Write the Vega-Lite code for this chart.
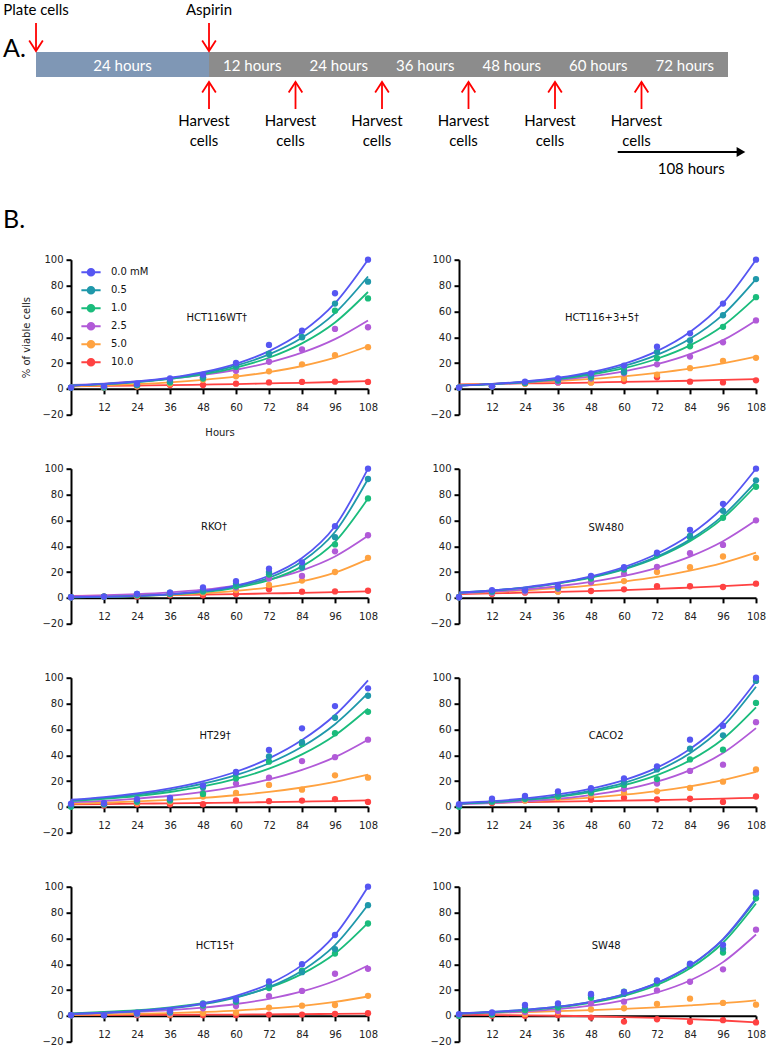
{
"$schema": "https://vega.github.io/schema/vega-lite/v6.json",
"padding": {"left": 2, "top": 2, "right": 0, "bottom": 0},
"background": "white",
"datasets": {"B": [
{"p":"HCT116WT","c":"10.0","t":0,"v":1,"f":2},{"p":"HCT116WT","c":"10.0","t":12,"v":1,"f":2.3},{"p":"HCT116WT","c":"10.0","t":24,"v":2,"f":2.6},{"p":"HCT116WT","c":"10.0","t":36,"v":3,"f":2.9},{"p":"HCT116WT","c":"10.0","t":48,"v":3,"f":3.3},{"p":"HCT116WT","c":"10.0","t":60,"v":4,"f":3.7},{"p":"HCT116WT","c":"10.0","t":72,"v":5,"f":4.2},{"p":"HCT116WT","c":"10.0","t":84,"v":5.4,"f":4.7},{"p":"HCT116WT","c":"10.0","t":96,"v":5.6,"f":5.3},{"p":"HCT116WT","c":"10.0","t":108,"v":5.4,"f":6},
{"p":"HCT116WT","c":"5.0","t":0,"v":1,"f":2},{"p":"HCT116WT","c":"5.0","t":12,"v":1,"f":2.7},{"p":"HCT116WT","c":"5.0","t":24,"v":2,"f":3.7},{"p":"HCT116WT","c":"5.0","t":36,"v":4,"f":5.1},{"p":"HCT116WT","c":"5.0","t":48,"v":7,"f":7},{"p":"HCT116WT","c":"5.0","t":60,"v":9.7,"f":9.5},{"p":"HCT116WT","c":"5.0","t":72,"v":13.6,"f":13},{"p":"HCT116WT","c":"5.0","t":84,"v":19,"f":17.7},{"p":"HCT116WT","c":"5.0","t":96,"v":26,"f":24.2},{"p":"HCT116WT","c":"5.0","t":108,"v":32.3,"f":33},
{"p":"HCT116WT","c":"2.5","t":0,"v":1,"f":3},{"p":"HCT116WT","c":"2.5","t":12,"v":1,"f":4.1},{"p":"HCT116WT","c":"2.5","t":24,"v":3,"f":5.7},{"p":"HCT116WT","c":"2.5","t":36,"v":6,"f":7.8},{"p":"HCT116WT","c":"2.5","t":48,"v":9,"f":10.8},{"p":"HCT116WT","c":"2.5","t":60,"v":14,"f":14.8},{"p":"HCT116WT","c":"2.5","t":72,"v":21,"f":20.4},{"p":"HCT116WT","c":"2.5","t":84,"v":30.5,"f":28},{"p":"HCT116WT","c":"2.5","t":96,"v":46.4,"f":38.5},{"p":"HCT116WT","c":"2.5","t":108,"v":47.7,"f":53},
{"p":"HCT116WT","c":"1.0","t":0,"v":1,"f":2.5},{"p":"HCT116WT","c":"1.0","t":12,"v":1,"f":3.7},{"p":"HCT116WT","c":"1.0","t":24,"v":3,"f":5.3},{"p":"HCT116WT","c":"1.0","t":36,"v":5,"f":7.8},{"p":"HCT116WT","c":"1.0","t":48,"v":8,"f":11.3},{"p":"HCT116WT","c":"1.0","t":60,"v":17,"f":16.5},{"p":"HCT116WT","c":"1.0","t":72,"v":27,"f":24.1},{"p":"HCT116WT","c":"1.0","t":84,"v":40,"f":35.2},{"p":"HCT116WT","c":"1.0","t":96,"v":60.5,"f":51.4},{"p":"HCT116WT","c":"1.0","t":108,"v":70,"f":75},
{"p":"HCT116WT","c":"0.5","t":0,"v":1,"f":2.5},{"p":"HCT116WT","c":"0.5","t":12,"v":2,"f":3.7},{"p":"HCT116WT","c":"0.5","t":24,"v":3,"f":5.5},{"p":"HCT116WT","c":"0.5","t":36,"v":6,"f":8.2},{"p":"HCT116WT","c":"0.5","t":48,"v":9,"f":12.1},{"p":"HCT116WT","c":"0.5","t":60,"v":18,"f":18},{"p":"HCT116WT","c":"0.5","t":72,"v":27,"f":26.7},{"p":"HCT116WT","c":"0.5","t":84,"v":40,"f":39.6},{"p":"HCT116WT","c":"0.5","t":96,"v":66,"f":58.7},{"p":"HCT116WT","c":"0.5","t":108,"v":83,"f":87},
{"p":"HCT116WT","c":"0.0 mM","t":0,"v":1,"f":2.5},{"p":"HCT116WT","c":"0.0 mM","t":12,"v":2,"f":3.8},{"p":"HCT116WT","c":"0.0 mM","t":24,"v":4,"f":5.7},{"p":"HCT116WT","c":"0.0 mM","t":36,"v":8,"f":8.6},{"p":"HCT116WT","c":"0.0 mM","t":48,"v":11,"f":12.9},{"p":"HCT116WT","c":"0.0 mM","t":60,"v":20,"f":19.4},{"p":"HCT116WT","c":"0.0 mM","t":72,"v":34,"f":29.2},{"p":"HCT116WT","c":"0.0 mM","t":84,"v":45,"f":44},{"p":"HCT116WT","c":"0.0 mM","t":96,"v":74,"f":66.3},{"p":"HCT116WT","c":"0.0 mM","t":108,"v":100,"f":100},

{"p":"HCT116+3+5","c":"10.0","t":0,"v":1,"f":3.5},{"p":"HCT116+3+5","c":"10.0","t":12,"v":2,"f":3.8},{"p":"HCT116+3+5","c":"10.0","t":24,"v":4,"f":4.2},{"p":"HCT116+3+5","c":"10.0","t":36,"v":5,"f":4.5},{"p":"HCT116+3+5","c":"10.0","t":48,"v":5,"f":4.9},{"p":"HCT116+3+5","c":"10.0","t":60,"v":6,"f":5.4},{"p":"HCT116+3+5","c":"10.0","t":72,"v":9,"f":5.8},{"p":"HCT116+3+5","c":"10.0","t":84,"v":5.6,"f":6.3},{"p":"HCT116+3+5","c":"10.0","t":96,"v":5,"f":6.9},{"p":"HCT116+3+5","c":"10.0","t":108,"v":6.6,"f":7.5},
{"p":"HCT116+3+5","c":"5.0","t":0,"v":1,"f":3},{"p":"HCT116+3+5","c":"5.0","t":12,"v":2,"f":3.8},{"p":"HCT116+3+5","c":"5.0","t":24,"v":4,"f":4.8},{"p":"HCT116+3+5","c":"5.0","t":36,"v":5,"f":6.1},{"p":"HCT116+3+5","c":"5.0","t":48,"v":5,"f":7.7},{"p":"HCT116+3+5","c":"5.0","t":60,"v":8,"f":9.7},{"p":"HCT116+3+5","c":"5.0","t":72,"v":11,"f":12.3},{"p":"HCT116+3+5","c":"5.0","t":84,"v":16,"f":15.6},{"p":"HCT116+3+5","c":"5.0","t":96,"v":21.7,"f":19.8},{"p":"HCT116+3+5","c":"5.0","t":108,"v":24,"f":25},
{"p":"HCT116+3+5","c":"2.5","t":0,"v":1,"f":2.5},{"p":"HCT116+3+5","c":"2.5","t":12,"v":2,"f":3.5},{"p":"HCT116+3+5","c":"2.5","t":24,"v":4.5,"f":4.9},{"p":"HCT116+3+5","c":"2.5","t":36,"v":5,"f":6.9},{"p":"HCT116+3+5","c":"2.5","t":48,"v":8,"f":9.7},{"p":"HCT116+3+5","c":"2.5","t":60,"v":12,"f":13.6},{"p":"HCT116+3+5","c":"2.5","t":72,"v":19,"f":19.1},{"p":"HCT116+3+5","c":"2.5","t":84,"v":25,"f":26.9},{"p":"HCT116+3+5","c":"2.5","t":96,"v":36,"f":37.7},{"p":"HCT116+3+5","c":"2.5","t":108,"v":53,"f":53},
{"p":"HCT116+3+5","c":"1.0","t":0,"v":1,"f":2.5},{"p":"HCT116+3+5","c":"1.0","t":12,"v":2,"f":3.6},{"p":"HCT116+3+5","c":"1.0","t":24,"v":4.5,"f":5.3},{"p":"HCT116+3+5","c":"1.0","t":36,"v":6.5,"f":7.6},{"p":"HCT116+3+5","c":"1.0","t":48,"v":9,"f":11.1},{"p":"HCT116+3+5","c":"1.0","t":60,"v":15,"f":16},{"p":"HCT116+3+5","c":"1.0","t":72,"v":23.7,"f":23.3},{"p":"HCT116+3+5","c":"1.0","t":84,"v":33,"f":33.7},{"p":"HCT116+3+5","c":"1.0","t":96,"v":48,"f":48.9},{"p":"HCT116+3+5","c":"1.0","t":108,"v":71,"f":71},
{"p":"HCT116+3+5","c":"0.5","t":0,"v":1,"f":2.5},{"p":"HCT116+3+5","c":"0.5","t":12,"v":2,"f":3.7},{"p":"HCT116+3+5","c":"0.5","t":24,"v":5,"f":5.5},{"p":"HCT116+3+5","c":"0.5","t":36,"v":7,"f":8.1},{"p":"HCT116+3+5","c":"0.5","t":48,"v":10,"f":12},{"p":"HCT116+3+5","c":"0.5","t":60,"v":12.8,"f":17.7},{"p":"HCT116+3+5","c":"0.5","t":72,"v":28.6,"f":26.3},{"p":"HCT116+3+5","c":"0.5","t":84,"v":37.5,"f":38.8},{"p":"HCT116+3+5","c":"0.5","t":96,"v":57,"f":57.5},{"p":"HCT116+3+5","c":"0.5","t":108,"v":85,"f":85},
{"p":"HCT116+3+5","c":"0.0 mM","t":0,"v":1,"f":2.5},{"p":"HCT116+3+5","c":"0.0 mM","t":12,"v":2,"f":3.8},{"p":"HCT116+3+5","c":"0.0 mM","t":24,"v":5.6,"f":5.7},{"p":"HCT116+3+5","c":"0.0 mM","t":36,"v":8,"f":8.6},{"p":"HCT116+3+5","c":"0.0 mM","t":48,"v":12,"f":12.9},{"p":"HCT116+3+5","c":"0.0 mM","t":60,"v":18,"f":19.4},{"p":"HCT116+3+5","c":"0.0 mM","t":72,"v":32.6,"f":29.2},{"p":"HCT116+3+5","c":"0.0 mM","t":84,"v":43,"f":44},{"p":"HCT116+3+5","c":"0.0 mM","t":96,"v":66,"f":66.3},{"p":"HCT116+3+5","c":"0.0 mM","t":108,"v":100,"f":100},

{"p":"RKO","c":"10.0","t":0,"v":0.5,"f":1.5},{"p":"RKO","c":"10.0","t":12,"v":1,"f":1.7},{"p":"RKO","c":"10.0","t":24,"v":1,"f":2},{"p":"RKO","c":"10.0","t":36,"v":2,"f":2.2},{"p":"RKO","c":"10.0","t":48,"v":2,"f":2.6},{"p":"RKO","c":"10.0","t":60,"v":3,"f":2.9},{"p":"RKO","c":"10.0","t":72,"v":6.6,"f":3.4},{"p":"RKO","c":"10.0","t":84,"v":4.8,"f":3.8},{"p":"RKO","c":"10.0","t":96,"v":5,"f":4.4},{"p":"RKO","c":"10.0","t":108,"v":5.5,"f":5},
{"p":"RKO","c":"5.0","t":0,"v":0.5,"f":0.6},{"p":"RKO","c":"5.0","t":12,"v":1,"f":1},{"p":"RKO","c":"5.0","t":24,"v":2,"f":1.5},{"p":"RKO","c":"5.0","t":36,"v":3,"f":2.3},{"p":"RKO","c":"5.0","t":48,"v":4,"f":3.5},{"p":"RKO","c":"5.0","t":60,"v":6,"f":5.4},{"p":"RKO","c":"5.0","t":72,"v":10,"f":8.2},{"p":"RKO","c":"5.0","t":84,"v":13.4,"f":12.7},{"p":"RKO","c":"5.0","t":96,"v":20,"f":19.5},{"p":"RKO","c":"5.0","t":108,"v":31,"f":30},
{"p":"RKO","c":"2.5","t":0,"v":0.5,"f":1.3},{"p":"RKO","c":"2.5","t":12,"v":1,"f":1.9},{"p":"RKO","c":"2.5","t":24,"v":2,"f":2.8},{"p":"RKO","c":"2.5","t":36,"v":3,"f":4.2},{"p":"RKO","c":"2.5","t":48,"v":5,"f":6.3},{"p":"RKO","c":"2.5","t":60,"v":8,"f":9.5},{"p":"RKO","c":"2.5","t":72,"v":15,"f":14.2},{"p":"RKO","c":"2.5","t":84,"v":17,"f":21.3},{"p":"RKO","c":"2.5","t":96,"v":36,"f":32},{"p":"RKO","c":"2.5","t":108,"v":48.5,"f":48},
{"p":"RKO","c":"1.0","t":0,"v":0.5,"f":0.45},{"p":"RKO","c":"1.0","t":12,"v":1,"f":0.8},{"p":"RKO","c":"1.0","t":24,"v":2,"f":1.4},{"p":"RKO","c":"1.0","t":36,"v":3,"f":2.5},{"p":"RKO","c":"1.0","t":48,"v":5,"f":4.4},{"p":"RKO","c":"1.0","t":60,"v":9,"f":7.8},{"p":"RKO","c":"1.0","t":72,"v":18,"f":13.8},{"p":"RKO","c":"1.0","t":84,"v":24,"f":24.4},{"p":"RKO","c":"1.0","t":96,"v":41.4,"f":43.4},{"p":"RKO","c":"1.0","t":108,"v":77,"f":77},
{"p":"RKO","c":"0.5","t":0,"v":0.5,"f":0.45},{"p":"RKO","c":"0.5","t":12,"v":1,"f":0.8},{"p":"RKO","c":"0.5","t":24,"v":3,"f":1.5},{"p":"RKO","c":"0.5","t":36,"v":4,"f":2.7},{"p":"RKO","c":"0.5","t":48,"v":6,"f":4.8},{"p":"RKO","c":"0.5","t":60,"v":11,"f":8.7},{"p":"RKO","c":"0.5","t":72,"v":20,"f":15.6},{"p":"RKO","c":"0.5","t":84,"v":23.5,"f":28.2},{"p":"RKO","c":"0.5","t":96,"v":47,"f":51},{"p":"RKO","c":"0.5","t":108,"v":92,"f":92},
{"p":"RKO","c":"0.0 mM","t":0,"v":0.5,"f":0.5},{"p":"RKO","c":"0.0 mM","t":12,"v":1,"f":0.9},{"p":"RKO","c":"0.0 mM","t":24,"v":3,"f":1.6},{"p":"RKO","c":"0.0 mM","t":36,"v":4,"f":2.9},{"p":"RKO","c":"0.0 mM","t":48,"v":8,"f":5.3},{"p":"RKO","c":"0.0 mM","t":60,"v":13,"f":9.5},{"p":"RKO","c":"0.0 mM","t":72,"v":22.7,"f":17.1},{"p":"RKO","c":"0.0 mM","t":84,"v":27.5,"f":30.8},{"p":"RKO","c":"0.0 mM","t":96,"v":55.5,"f":55.5},{"p":"RKO","c":"0.0 mM","t":108,"v":100,"f":100},

{"p":"SW480","c":"10.0","t":0,"v":0.5,"f":3},{"p":"SW480","c":"10.0","t":12,"v":3,"f":3.5},{"p":"SW480","c":"10.0","t":24,"v":4,"f":4},{"p":"SW480","c":"10.0","t":36,"v":5,"f":4.6},{"p":"SW480","c":"10.0","t":48,"v":5.3,"f":5.2},{"p":"SW480","c":"10.0","t":60,"v":6.6,"f":6},{"p":"SW480","c":"10.0","t":72,"v":9,"f":6.9},{"p":"SW480","c":"10.0","t":84,"v":9,"f":8},{"p":"SW480","c":"10.0","t":96,"v":8.4,"f":9.1},{"p":"SW480","c":"10.0","t":108,"v":11,"f":10.5},
{"p":"SW480","c":"5.0","t":0,"v":0.5,"f":3.5},{"p":"SW480","c":"5.0","t":12,"v":4,"f":4.5},{"p":"SW480","c":"5.0","t":24,"v":5,"f":5.8},{"p":"SW480","c":"5.0","t":36,"v":5,"f":7.5},{"p":"SW480","c":"5.0","t":48,"v":12,"f":9.7},{"p":"SW480","c":"5.0","t":60,"v":13,"f":12.6},{"p":"SW480","c":"5.0","t":72,"v":20,"f":16.2},{"p":"SW480","c":"5.0","t":84,"v":23.7,"f":21},{"p":"SW480","c":"5.0","t":96,"v":32,"f":27.1},{"p":"SW480","c":"5.0","t":108,"v":31,"f":35},
{"p":"SW480","c":"2.5","t":0,"v":0.5,"f":3.5},{"p":"SW480","c":"2.5","t":12,"v":4,"f":4.8},{"p":"SW480","c":"2.5","t":24,"v":5,"f":6.6},{"p":"SW480","c":"2.5","t":36,"v":7,"f":9},{"p":"SW480","c":"2.5","t":48,"v":12,"f":12.4},{"p":"SW480","c":"2.5","t":60,"v":18.6,"f":17},{"p":"SW480","c":"2.5","t":72,"v":24,"f":23.3},{"p":"SW480","c":"2.5","t":84,"v":34.6,"f":31.9},{"p":"SW480","c":"2.5","t":96,"v":41,"f":43.8},{"p":"SW480","c":"2.5","t":108,"v":60,"f":60},
{"p":"SW480","c":"1.0","t":0,"v":0.5,"f":4},{"p":"SW480","c":"1.0","t":12,"v":5,"f":5.6},{"p":"SW480","c":"1.0","t":24,"v":6,"f":7.9},{"p":"SW480","c":"1.0","t":36,"v":8,"f":11.2},{"p":"SW480","c":"1.0","t":48,"v":15,"f":15.7},{"p":"SW480","c":"1.0","t":60,"v":22,"f":22.1},{"p":"SW480","c":"1.0","t":72,"v":33,"f":31.1},{"p":"SW480","c":"1.0","t":84,"v":47,"f":43.8},{"p":"SW480","c":"1.0","t":96,"v":62,"f":61.7},{"p":"SW480","c":"1.0","t":108,"v":86,"f":87},
{"p":"SW480","c":"0.5","t":0,"v":0.5,"f":4},{"p":"SW480","c":"0.5","t":12,"v":5,"f":5.7},{"p":"SW480","c":"0.5","t":24,"v":6,"f":8},{"p":"SW480","c":"0.5","t":36,"v":8,"f":11.3},{"p":"SW480","c":"0.5","t":48,"v":16,"f":16},{"p":"SW480","c":"0.5","t":60,"v":23,"f":22.6},{"p":"SW480","c":"0.5","t":72,"v":34,"f":31.9},{"p":"SW480","c":"0.5","t":84,"v":48,"f":45.1},{"p":"SW480","c":"0.5","t":96,"v":67.4,"f":63.7},{"p":"SW480","c":"0.5","t":108,"v":91,"f":90},
{"p":"SW480","c":"0.0 mM","t":0,"v":0.5,"f":4},{"p":"SW480","c":"0.0 mM","t":12,"v":6,"f":5.7},{"p":"SW480","c":"0.0 mM","t":24,"v":6,"f":8.2},{"p":"SW480","c":"0.0 mM","t":36,"v":9,"f":11.7},{"p":"SW480","c":"0.0 mM","t":48,"v":17,"f":16.7},{"p":"SW480","c":"0.0 mM","t":60,"v":23.7,"f":23.9},{"p":"SW480","c":"0.0 mM","t":72,"v":35,"f":34.2},{"p":"SW480","c":"0.0 mM","t":84,"v":52.7,"f":48.9},{"p":"SW480","c":"0.0 mM","t":96,"v":72.8,"f":69.9},{"p":"SW480","c":"0.0 mM","t":108,"v":100,"f":100},

{"p":"HT29","c":"10.0","t":0,"v":1,"f":2},{"p":"HT29","c":"10.0","t":12,"v":1,"f":2.2},{"p":"HT29","c":"10.0","t":24,"v":2,"f":2.5},{"p":"HT29","c":"10.0","t":36,"v":2,"f":2.7},{"p":"HT29","c":"10.0","t":48,"v":2,"f":3},{"p":"HT29","c":"10.0","t":60,"v":5,"f":3.3},{"p":"HT29","c":"10.0","t":72,"v":4.4,"f":3.7},{"p":"HT29","c":"10.0","t":84,"v":4.9,"f":4.1},{"p":"HT29","c":"10.0","t":96,"v":6,"f":4.5},{"p":"HT29","c":"10.0","t":108,"v":3.8,"f":5},
{"p":"HT29","c":"5.0","t":0,"v":1,"f":2.5},{"p":"HT29","c":"5.0","t":12,"v":2,"f":3.2},{"p":"HT29","c":"5.0","t":24,"v":3,"f":4.2},{"p":"HT29","c":"5.0","t":36,"v":4,"f":5.4},{"p":"HT29","c":"5.0","t":48,"v":8,"f":7},{"p":"HT29","c":"5.0","t":60,"v":10.8,"f":9},{"p":"HT29","c":"5.0","t":72,"v":17,"f":11.6},{"p":"HT29","c":"5.0","t":84,"v":13.3,"f":15},{"p":"HT29","c":"5.0","t":96,"v":24.4,"f":19.4},{"p":"HT29","c":"5.0","t":108,"v":22.6,"f":25},
{"p":"HT29","c":"2.5","t":0,"v":1,"f":3.5},{"p":"HT29","c":"2.5","t":12,"v":2,"f":4.7},{"p":"HT29","c":"2.5","t":24,"v":4,"f":6.4},{"p":"HT29","c":"2.5","t":36,"v":5,"f":8.6},{"p":"HT29","c":"2.5","t":48,"v":10.8,"f":11.6},{"p":"HT29","c":"2.5","t":60,"v":18,"f":15.7},{"p":"HT29","c":"2.5","t":72,"v":22.6,"f":21.2},{"p":"HT29","c":"2.5","t":84,"v":35.4,"f":28.6},{"p":"HT29","c":"2.5","t":96,"v":38.5,"f":38.5},{"p":"HT29","c":"2.5","t":108,"v":52,"f":52},
{"p":"HT29","c":"1.0","t":0,"v":0,"f":4.5},{"p":"HT29","c":"1.0","t":12,"v":2,"f":6.2},{"p":"HT29","c":"1.0","t":24,"v":4,"f":8.4},{"p":"HT29","c":"1.0","t":36,"v":5,"f":11.5},{"p":"HT29","c":"1.0","t":48,"v":10,"f":15.8},{"p":"HT29","c":"1.0","t":60,"v":22,"f":21.6},{"p":"HT29","c":"1.0","t":72,"v":35,"f":29.6},{"p":"HT29","c":"1.0","t":84,"v":48.7,"f":40.6},{"p":"HT29","c":"1.0","t":96,"v":57,"f":55.5},{"p":"HT29","c":"1.0","t":108,"v":73.6,"f":76},
{"p":"HT29","c":"0.5","t":0,"v":1,"f":5},{"p":"HT29","c":"0.5","t":12,"v":2,"f":6.9},{"p":"HT29","c":"0.5","t":24,"v":5,"f":9.5},{"p":"HT29","c":"0.5","t":36,"v":6,"f":13},{"p":"HT29","c":"0.5","t":48,"v":15,"f":17.9},{"p":"HT29","c":"0.5","t":60,"v":26,"f":24.6},{"p":"HT29","c":"0.5","t":72,"v":39,"f":33.8},{"p":"HT29","c":"0.5","t":84,"v":50,"f":46.5},{"p":"HT29","c":"0.5","t":96,"v":69,"f":64},{"p":"HT29","c":"0.5","t":108,"v":86,"f":88},
{"p":"HT29","c":"0.0 mM","t":0,"v":2.5,"f":5.5},{"p":"HT29","c":"0.0 mM","t":12,"v":3,"f":7.6},{"p":"HT29","c":"0.0 mM","t":24,"v":6,"f":10.4},{"p":"HT29","c":"0.0 mM","t":36,"v":7,"f":14.4},{"p":"HT29","c":"0.0 mM","t":48,"v":16.7,"f":19.8},{"p":"HT29","c":"0.0 mM","t":60,"v":27,"f":27.2},{"p":"HT29","c":"0.0 mM","t":72,"v":44,"f":37.5},{"p":"HT29","c":"0.0 mM","t":84,"v":60.8,"f":51.7},{"p":"HT29","c":"0.0 mM","t":96,"v":78,"f":71.1},{"p":"HT29","c":"0.0 mM","t":108,"v":91.8,"f":98},

{"p":"CACO2","c":"10.0","t":0,"v":1,"f":3},{"p":"CACO2","c":"10.0","t":12,"v":3,"f":3.3},{"p":"CACO2","c":"10.0","t":24,"v":5,"f":3.6},{"p":"CACO2","c":"10.0","t":36,"v":7.3,"f":4},{"p":"CACO2","c":"10.0","t":48,"v":5.6,"f":4.4},{"p":"CACO2","c":"10.0","t":60,"v":7,"f":4.8},{"p":"CACO2","c":"10.0","t":72,"v":5.8,"f":5.3},{"p":"CACO2","c":"10.0","t":84,"v":6.3,"f":5.8},{"p":"CACO2","c":"10.0","t":96,"v":3.8,"f":6.4},{"p":"CACO2","c":"10.0","t":108,"v":8,"f":7},
{"p":"CACO2","c":"5.0","t":0,"v":1,"f":2.5},{"p":"CACO2","c":"5.0","t":12,"v":4,"f":3.3},{"p":"CACO2","c":"5.0","t":24,"v":5,"f":4.2},{"p":"CACO2","c":"5.0","t":36,"v":7,"f":5.5},{"p":"CACO2","c":"5.0","t":48,"v":8.9,"f":7.2},{"p":"CACO2","c":"5.0","t":60,"v":11,"f":9.4},{"p":"CACO2","c":"5.0","t":72,"v":12,"f":12.2},{"p":"CACO2","c":"5.0","t":84,"v":14.7,"f":15.9},{"p":"CACO2","c":"5.0","t":96,"v":19.5,"f":20.7},{"p":"CACO2","c":"5.0","t":108,"v":29,"f":27},
{"p":"CACO2","c":"2.5","t":0,"v":1,"f":2},{"p":"CACO2","c":"2.5","t":12,"v":4,"f":2.9},{"p":"CACO2","c":"2.5","t":24,"v":6,"f":4.3},{"p":"CACO2","c":"2.5","t":36,"v":8.9,"f":6.3},{"p":"CACO2","c":"2.5","t":48,"v":10.6,"f":9.1},{"p":"CACO2","c":"2.5","t":60,"v":14,"f":13.3},{"p":"CACO2","c":"2.5","t":72,"v":18,"f":19.5},{"p":"CACO2","c":"2.5","t":84,"v":27.8,"f":28.5},{"p":"CACO2","c":"2.5","t":96,"v":32.7,"f":41.7},{"p":"CACO2","c":"2.5","t":108,"v":65.6,"f":61},
{"p":"CACO2","c":"1.0","t":0,"v":0,"f":2.5},{"p":"CACO2","c":"1.0","t":12,"v":4,"f":3.7},{"p":"CACO2","c":"1.0","t":24,"v":6,"f":5.4},{"p":"CACO2","c":"1.0","t":36,"v":8,"f":7.8},{"p":"CACO2","c":"1.0","t":48,"v":11,"f":11.5},{"p":"CACO2","c":"1.0","t":60,"v":17,"f":16.8},{"p":"CACO2","c":"1.0","t":72,"v":21.5,"f":24.6},{"p":"CACO2","c":"1.0","t":84,"v":36.7,"f":36},{"p":"CACO2","c":"1.0","t":96,"v":44.3,"f":52.6},{"p":"CACO2","c":"1.0","t":108,"v":80.5,"f":77},
{"p":"CACO2","c":"0.5","t":0,"v":1,"f":2.5},{"p":"CACO2","c":"0.5","t":12,"v":5,"f":3.7},{"p":"CACO2","c":"0.5","t":24,"v":7,"f":5.6},{"p":"CACO2","c":"0.5","t":36,"v":10,"f":8.3},{"p":"CACO2","c":"0.5","t":48,"v":13,"f":12.5},{"p":"CACO2","c":"0.5","t":60,"v":19,"f":18.6},{"p":"CACO2","c":"0.5","t":72,"v":29,"f":27.8},{"p":"CACO2","c":"0.5","t":84,"v":45,"f":41.6},{"p":"CACO2","c":"0.5","t":96,"v":55.4,"f":62.2},{"p":"CACO2","c":"0.5","t":108,"v":97.5,"f":93},
{"p":"CACO2","c":"0.0 mM","t":0,"v":2,"f":3},{"p":"CACO2","c":"0.0 mM","t":12,"v":6.3,"f":4.4},{"p":"CACO2","c":"0.0 mM","t":24,"v":8.4,"f":6.5},{"p":"CACO2","c":"0.0 mM","t":36,"v":12,"f":9.6},{"p":"CACO2","c":"0.0 mM","t":48,"v":14.4,"f":14.1},{"p":"CACO2","c":"0.0 mM","t":60,"v":22,"f":20.7},{"p":"CACO2","c":"0.0 mM","t":72,"v":31.4,"f":30.4},{"p":"CACO2","c":"0.0 mM","t":84,"v":52,"f":44.8},{"p":"CACO2","c":"0.0 mM","t":96,"v":62.8,"f":65.9},{"p":"CACO2","c":"0.0 mM","t":108,"v":100,"f":97},

{"p":"HCT15","c":"10.0","t":0,"v":0.5,"f":0.5},{"p":"HCT15","c":"10.0","t":12,"v":0.5,"f":0.6},{"p":"HCT15","c":"10.0","t":24,"v":0.5,"f":0.7},{"p":"HCT15","c":"10.0","t":36,"v":0.5,"f":0.8},{"p":"HCT15","c":"10.0","t":48,"v":0.5,"f":0.9},{"p":"HCT15","c":"10.0","t":60,"v":0.5,"f":1},{"p":"HCT15","c":"10.0","t":72,"v":1,"f":1.2},{"p":"HCT15","c":"10.0","t":84,"v":1,"f":1.3},{"p":"HCT15","c":"10.0","t":96,"v":1.5,"f":1.6},{"p":"HCT15","c":"10.0","t":108,"v":2,"f":1.8},
{"p":"HCT15","c":"5.0","t":0,"v":0.5,"f":0.8},{"p":"HCT15","c":"5.0","t":12,"v":0.5,"f":1.1},{"p":"HCT15","c":"5.0","t":24,"v":1,"f":1.5},{"p":"HCT15","c":"5.0","t":36,"v":1,"f":2.1},{"p":"HCT15","c":"5.0","t":48,"v":2,"f":3},{"p":"HCT15","c":"5.0","t":60,"v":2.5,"f":4.1},{"p":"HCT15","c":"5.0","t":72,"v":6.4,"f":5.7},{"p":"HCT15","c":"5.0","t":84,"v":7.9,"f":7.8},{"p":"HCT15","c":"5.0","t":96,"v":8.4,"f":10.8},{"p":"HCT15","c":"5.0","t":108,"v":15.5,"f":15},
{"p":"HCT15","c":"2.5","t":0,"v":0.5,"f":1.5},{"p":"HCT15","c":"2.5","t":12,"v":0.5,"f":2.2},{"p":"HCT15","c":"2.5","t":24,"v":1,"f":3.1},{"p":"HCT15","c":"2.5","t":36,"v":2,"f":4.4},{"p":"HCT15","c":"2.5","t":48,"v":5.9,"f":6.4},{"p":"HCT15","c":"2.5","t":60,"v":7.6,"f":9.2},{"p":"HCT15","c":"2.5","t":72,"v":15.3,"f":13.2},{"p":"HCT15","c":"2.5","t":84,"v":19.3,"f":18.9},{"p":"HCT15","c":"2.5","t":96,"v":32.6,"f":27.2},{"p":"HCT15","c":"2.5","t":108,"v":36.4,"f":39},
{"p":"HCT15","c":"1.0","t":0,"v":0.5,"f":2},{"p":"HCT15","c":"1.0","t":12,"v":0.5,"f":3},{"p":"HCT15","c":"1.0","t":24,"v":2,"f":4.4},{"p":"HCT15","c":"1.0","t":36,"v":3,"f":6.6},{"p":"HCT15","c":"1.0","t":48,"v":8,"f":9.8},{"p":"HCT15","c":"1.0","t":60,"v":11,"f":14.6},{"p":"HCT15","c":"1.0","t":72,"v":21.6,"f":21.8},{"p":"HCT15","c":"1.0","t":84,"v":35,"f":32.5},{"p":"HCT15","c":"1.0","t":96,"v":48.3,"f":48.3},{"p":"HCT15","c":"1.0","t":108,"v":71.5,"f":72},
{"p":"HCT15","c":"0.5","t":0,"v":0.5,"f":1.5},{"p":"HCT15","c":"0.5","t":12,"v":0.5,"f":2.4},{"p":"HCT15","c":"0.5","t":24,"v":2,"f":3.7},{"p":"HCT15","c":"0.5","t":36,"v":3,"f":5.8},{"p":"HCT15","c":"0.5","t":48,"v":9.7,"f":9.1},{"p":"HCT15","c":"0.5","t":60,"v":11.7,"f":14.2},{"p":"HCT15","c":"0.5","t":72,"v":23.7,"f":22.3},{"p":"HCT15","c":"0.5","t":84,"v":33.8,"f":35},{"p":"HCT15","c":"0.5","t":96,"v":51.7,"f":54.8},{"p":"HCT15","c":"0.5","t":108,"v":85.7,"f":86},
{"p":"HCT15","c":"0.0 mM","t":0,"v":0.5,"f":1.5},{"p":"HCT15","c":"0.0 mM","t":12,"v":0.5,"f":2.4},{"p":"HCT15","c":"0.0 mM","t":24,"v":2.5,"f":3.8},{"p":"HCT15","c":"0.0 mM","t":36,"v":3.8,"f":6.1},{"p":"HCT15","c":"0.0 mM","t":48,"v":9,"f":9.7},{"p":"HCT15","c":"0.0 mM","t":60,"v":12.7,"f":15.5},{"p":"HCT15","c":"0.0 mM","t":72,"v":26.7,"f":24.7},{"p":"HCT15","c":"0.0 mM","t":84,"v":40,"f":39.3},{"p":"HCT15","c":"0.0 mM","t":96,"v":62.6,"f":62.7},{"p":"HCT15","c":"0.0 mM","t":108,"v":100,"f":100},

{"p":"SW48","c":"10.0","t":0,"v":0,"f":0.8},{"p":"SW48","c":"10.0","t":12,"v":0,"f":0.6},{"p":"SW48","c":"10.0","t":24,"v":0,"f":0.4},{"p":"SW48","c":"10.0","t":36,"v":0.5,"f":0.1},{"p":"SW48","c":"10.0","t":48,"v":-1.3,"f":-0.3},{"p":"SW48","c":"10.0","t":60,"v":-4.4,"f":-0.9},{"p":"SW48","c":"10.0","t":72,"v":-2.6,"f":-1.6},{"p":"SW48","c":"10.0","t":84,"v":-4.6,"f":-2.5},{"p":"SW48","c":"10.0","t":96,"v":-3.3,"f":-3.6},{"p":"SW48","c":"10.0","t":108,"v":-5.1,"f":-5},
{"p":"SW48","c":"5.0","t":0,"v":0,"f":2},{"p":"SW48","c":"5.0","t":12,"v":1,"f":2.4},{"p":"SW48","c":"5.0","t":24,"v":1.3,"f":3},{"p":"SW48","c":"5.0","t":36,"v":3,"f":3.6},{"p":"SW48","c":"5.0","t":48,"v":5,"f":4.4},{"p":"SW48","c":"5.0","t":60,"v":5.9,"f":5.4},{"p":"SW48","c":"5.0","t":72,"v":9.2,"f":6.6},{"p":"SW48","c":"5.0","t":84,"v":13.3,"f":8.1},{"p":"SW48","c":"5.0","t":96,"v":10,"f":9.8},{"p":"SW48","c":"5.0","t":108,"v":8.7,"f":12},
{"p":"SW48","c":"2.5","t":0,"v":0,"f":1.5},{"p":"SW48","c":"2.5","t":12,"v":1,"f":2.3},{"p":"SW48","c":"2.5","t":24,"v":3,"f":3.4},{"p":"SW48","c":"2.5","t":36,"v":3.8,"f":5.2},{"p":"SW48","c":"2.5","t":48,"v":9.7,"f":7.9},{"p":"SW48","c":"2.5","t":60,"v":11,"f":12},{"p":"SW48","c":"2.5","t":72,"v":19.7,"f":18.1},{"p":"SW48","c":"2.5","t":84,"v":26.4,"f":27.4},{"p":"SW48","c":"2.5","t":96,"v":36,"f":41.6},{"p":"SW48","c":"2.5","t":108,"v":66.7,"f":63},
{"p":"SW48","c":"1.0","t":0,"v":0,"f":1.8},{"p":"SW48","c":"1.0","t":12,"v":1,"f":2.8},{"p":"SW48","c":"1.0","t":24,"v":4.4,"f":4.3},{"p":"SW48","c":"1.0","t":36,"v":6.4,"f":6.6},{"p":"SW48","c":"1.0","t":48,"v":14,"f":10.1},{"p":"SW48","c":"1.0","t":60,"v":18.7,"f":15.5},{"p":"SW48","c":"1.0","t":72,"v":25,"f":23.9},{"p":"SW48","c":"1.0","t":84,"v":39,"f":36.8},{"p":"SW48","c":"1.0","t":96,"v":49,"f":56.6},{"p":"SW48","c":"1.0","t":108,"v":91,"f":87},
{"p":"SW48","c":"0.5","t":0,"v":1,"f":2},{"p":"SW48","c":"0.5","t":12,"v":2,"f":3.1},{"p":"SW48","c":"0.5","t":24,"v":6,"f":4.7},{"p":"SW48","c":"0.5","t":36,"v":8,"f":7.1},{"p":"SW48","c":"0.5","t":48,"v":16,"f":10.9},{"p":"SW48","c":"0.5","t":60,"v":17,"f":16.6},{"p":"SW48","c":"0.5","t":72,"v":27,"f":25.3},{"p":"SW48","c":"0.5","t":84,"v":40,"f":38.7},{"p":"SW48","c":"0.5","t":96,"v":52,"f":59},{"p":"SW48","c":"0.5","t":108,"v":94.4,"f":90},
{"p":"SW48","c":"0.0 mM","t":0,"v":1.3,"f":2},{"p":"SW48","c":"0.0 mM","t":12,"v":2.6,"f":3.1},{"p":"SW48","c":"0.0 mM","t":24,"v":8.5,"f":4.7},{"p":"SW48","c":"0.0 mM","t":36,"v":9.7,"f":7.1},{"p":"SW48","c":"0.0 mM","t":48,"v":17,"f":10.9},{"p":"SW48","c":"0.0 mM","t":60,"v":18.5,"f":16.7},{"p":"SW48","c":"0.0 mM","t":72,"v":27.4,"f":25.5},{"p":"SW48","c":"0.0 mM","t":84,"v":40.5,"f":38.9},{"p":"SW48","c":"0.0 mM","t":96,"v":55,"f":59.5},{"p":"SW48","c":"0.0 mM","t":108,"v":95.6,"f":91}
]},
"vconcat": [
{
 "width": 697, "height": 228,
 "layer": [
  {"data": {"values": [{"seg": "before aspirin", "from": -24, "to": 0}, {"seg": "after aspirin", "from": 0, "to": 72}]},
   "mark": {"type": "rect"},
   "encoding": {
    "x": {"field": "from", "type": "quantitative", "scale": {"domain": [-19.146, 77.55], "nice": false, "zero": false}, "axis": null},
    "x2": {"field": "to"},
    "y": {"datum": 4.9, "type": "quantitative", "scale": {"domain": [0, 22.8], "reverse": true, "nice": false, "zero": false}, "axis": null},
    "y2": {"datum": 7.4},
    "color": {"field": "seg", "type": "nominal", "scale": {"domain": ["before aspirin", "after aspirin"], "range": ["#7F97B5", "#8C8C8C"]}, "legend": null}}},
  {"data": {"values": [{"mid": -12, "label": "24 hours"}, {"mid": 6, "label": "12 hours"}, {"mid": 18, "label": "24 hours"}, {"mid": 30, "label": "36 hours"}, {"mid": 42, "label": "48 hours"}, {"mid": 54, "label": "60 hours"}, {"mid": 66, "label": "72 hours"}]},
   "mark": {"type": "text", "font": "Lato", "fontSize": 15, "color": "#FFFFFF"},
   "encoding": {"x": {"field": "mid", "type": "quantitative"}, "y": {"datum": 6.25, "type": "quantitative"}, "text": {"field": "label"}}},
  {"data": {"values": [{"h": -24, "label": "Plate cells"}, {"h": 0, "label": "Aspirin"}]},
   "layer": [
    {"mark": {"type": "rule", "color": "#FF0000", "strokeWidth": 1.8}, "encoding": {"x": {"field": "h", "type": "quantitative"}, "y": {"datum": 2.0, "type": "quantitative"}, "y2": {"datum": 4.8}}},
    {"mark": {"type": "point", "shape": "M-0.65,-1L0,0L0.65,-1", "filled": false, "color": "#FF0000", "strokeWidth": 1.8, "size": 441, "opacity": 1}, "encoding": {"x": {"field": "h", "type": "quantitative"}, "y": {"datum": 4.8, "type": "quantitative"}}},
    {"mark": {"type": "text", "font": "Lato", "fontSize": 15, "color": "#000000"}, "encoding": {"x": {"field": "h", "type": "quantitative"}, "y": {"datum": 0.65, "type": "quantitative"}, "text": {"field": "label"}}}
   ]},
  {"data": {"values": [{"h": 0, "label": "Harvest\ncells"}, {"h": 12, "label": "Harvest\ncells"}, {"h": 24, "label": "Harvest\ncells"}, {"h": 36, "label": "Harvest\ncells"}, {"h": 48, "label": "Harvest\ncells"}, {"h": 60, "label": "Harvest\ncells"}]},
   "layer": [
    {"mark": {"type": "rule", "color": "#FF0000", "strokeWidth": 1.8}, "encoding": {"x": {"field": "h", "type": "quantitative"}, "y": {"datum": 7.9, "type": "quantitative"}, "y2": {"datum": 10.6}}},
    {"mark": {"type": "point", "shape": "M-0.65,1L0,0L0.65,1", "filled": false, "color": "#FF0000", "strokeWidth": 1.8, "size": 441, "opacity": 1}, "encoding": {"x": {"field": "h", "type": "quantitative"}, "y": {"datum": 7.9, "type": "quantitative"}}},
    {"mark": {"type": "text", "font": "Lato", "fontSize": 15, "color": "#000000", "baseline": "top", "lineBreak": "\n", "lineHeight": 20, "dx": -5}, "encoding": {"x": {"field": "h", "type": "quantitative"}, "y": {"datum": 11.1, "type": "quantitative"}, "text": {"field": "label"}}}
   ]},
  {"data": {"values": [{"from": 56.7, "to": 73.8, "label": "108 hours"}]},
   "layer": [
    {"mark": {"type": "rule", "color": "#000000", "strokeWidth": 2}, "encoding": {"x": {"field": "from", "type": "quantitative"}, "x2": {"field": "to"}, "y": {"datum": 14.9, "type": "quantitative"}}},
    {"mark": {"type": "point", "shape": "triangle-right", "filled": true, "color": "#000000", "size": 100, "opacity": 1}, "encoding": {"x": {"field": "to", "type": "quantitative"}, "y": {"datum": 14.9, "type": "quantitative"}}},
    {"mark": {"type": "text", "font": "Lato", "fontSize": 15, "color": "#000000"}, "encoding": {"x": {"datum": 66.9, "type": "quantitative"}, "y": {"datum": 16.55, "type": "quantitative"}, "text": {"field": "label"}}}
   ]},
  {"data": {"values": [{"label": "A."}]}, "mark": {"type": "text", "font": "Lato", "fontSize": 25, "align": "left", "color": "#000000"}, "encoding": {"x": {"datum": -28.58, "type": "quantitative"}, "y": {"datum": 4.6, "type": "quantitative"}, "text": {"field": "label"}}},
  {"data": {"values": [{"label": "B."}]}, "mark": {"type": "text", "font": "Lato", "fontSize": 25, "align": "left", "color": "#000000"}, "encoding": {"x": {"datum": -28.58, "type": "quantitative"}, "y": {"datum": 21.7, "type": "quantitative"}, "text": {"field": "label"}}}
 ]
},
{
 "columns": 2,
 "spacing": {"row": 54, "column": 91},
 "bounds": "flush",
 "resolve": {"scale": {"color": "independent"}},
 "concat": [
  {"width": 297, "height": 155, "layer": [
   {"data": {"name": "B"}, "transform": [{"filter": {"field": "p", "equal": "HCT116WT"}}], "layer": [
    {"mark": {"type": "line", "interpolate": "monotone", "strokeWidth": 1.8}, "encoding": {
     "x": {"field": "t", "type": "quantitative", "title": "Hours", "scale": {"domain": [0, 108], "nice": false, "zero": false}, "axis": {"values": [12, 24, 36, 48, 60, 72, 84, 96, 108], "offset": -25.83, "labelOverlap": false, "tickCount": 30}},
     "y": {"field": "f", "type": "quantitative", "title": "% of viable cells", "scale": {"domain": [-20, 100], "nice": false, "zero": false}, "axis": {"values": [-20, 0, 20, 40, 60, 80, 100], "labelOverlap": false, "tickCount": 30}},
     "color": {"field": "c", "type": "nominal", "scale": {"domain": ["0.0 mM", "0.5", "1.0", "2.5", "5.0", "10.0"], "range": ["#5656F2", "#1F98AA", "#1ABC7C", "#B15AD8", "#FFA240", "#FF4242"]}, "legend": {"orient": "none", "legendX": 10, "legendY": 2.5, "title": null, "symbolType": "M-1.1,0H1.1M0.38,0A0.38,0.38,0,1,1,-0.38,0A0.38,0.38,0,1,1,0.38,0M0.2,0A0.2,0.2,0,1,1,-0.2,0A0.2,0.2,0,1,1,0.2,0", "symbolSize": 306, "symbolStrokeWidth": 2, "labelFont": "DejaVu Sans", "labelFontSize": 10, "labelOffset": 10, "rowPadding": 0, "labelColor": "#111111", "padding": 0}}}},
    {"mark": {"type": "point", "filled": true, "size": 40, "opacity": 1}, "encoding": {
     "x": {"field": "t", "type": "quantitative", "title": "Hours"},
     "y": {"field": "v", "type": "quantitative", "title": "% of viable cells"},
     "color": {"field": "c", "type": "nominal", "scale": {"domain": ["0.0 mM", "0.5", "1.0", "2.5", "5.0", "10.0"], "range": ["#5656F2", "#1F98AA", "#1ABC7C", "#B15AD8", "#FFA240", "#FF4242"]}, "legend": {"orient": "none", "legendX": 10, "legendY": 2.5, "title": null, "symbolType": "M-1.1,0H1.1M0.38,0A0.38,0.38,0,1,1,-0.38,0A0.38,0.38,0,1,1,0.38,0M0.2,0A0.2,0.2,0,1,1,-0.2,0A0.2,0.2,0,1,1,0.2,0", "symbolSize": 306, "symbolStrokeWidth": 2, "labelFont": "DejaVu Sans", "labelFontSize": 10, "labelOffset": 10, "rowPadding": 0, "labelColor": "#111111", "padding": 0}}}}
   ]},
   {"data": {"values": [{"label": "HCT116WT†"}]}, "mark": {"type": "text", "font": "DejaVu Sans", "fontSize": 10, "color": "#111111"}, "encoding": {"x": {"datum": 53, "type": "quantitative"}, "y": {"datum": 55, "type": "quantitative"}, "text": {"field": "label"}}}
  ]},
  {"width": 297, "height": 155, "layer": [
   {"data": {"name": "B"}, "transform": [{"filter": {"field": "p", "equal": "HCT116+3+5"}}], "layer": [
    {"mark": {"type": "line", "interpolate": "monotone", "strokeWidth": 1.8}, "encoding": {
     "x": {"field": "t", "type": "quantitative", "title": null, "scale": {"domain": [0, 108], "nice": false, "zero": false}, "axis": {"values": [12, 24, 36, 48, 60, 72, 84, 96, 108], "offset": -25.83, "labelOverlap": false, "tickCount": 30}},
     "y": {"field": "f", "type": "quantitative", "title": null, "scale": {"domain": [-20, 100], "nice": false, "zero": false}, "axis": {"values": [-20, 0, 20, 40, 60, 80, 100], "labelOverlap": false, "tickCount": 30}},
     "color": {"field": "c", "type": "nominal", "scale": {"domain": ["0.0 mM", "0.5", "1.0", "2.5", "5.0", "10.0"], "range": ["#5656F2", "#1F98AA", "#1ABC7C", "#B15AD8", "#FFA240", "#FF4242"]}, "legend": null}}},
    {"mark": {"type": "point", "filled": true, "size": 40, "opacity": 1}, "encoding": {
     "x": {"field": "t", "type": "quantitative", "title": null},
     "y": {"field": "v", "type": "quantitative", "title": null},
     "color": {"field": "c", "type": "nominal", "scale": {"domain": ["0.0 mM", "0.5", "1.0", "2.5", "5.0", "10.0"], "range": ["#5656F2", "#1F98AA", "#1ABC7C", "#B15AD8", "#FFA240", "#FF4242"]}, "legend": null}}}
   ]},
   {"data": {"values": [{"label": "HCT116+3+5†"}]}, "mark": {"type": "text", "font": "DejaVu Sans", "fontSize": 10, "color": "#111111"}, "encoding": {"x": {"datum": 52, "type": "quantitative"}, "y": {"datum": 55, "type": "quantitative"}, "text": {"field": "label"}}}
  ]},
  {"width": 297, "height": 155, "layer": [
   {"data": {"name": "B"}, "transform": [{"filter": {"field": "p", "equal": "RKO"}}], "layer": [
    {"mark": {"type": "line", "interpolate": "monotone", "strokeWidth": 1.8}, "encoding": {
     "x": {"field": "t", "type": "quantitative", "title": null, "scale": {"domain": [0, 108], "nice": false, "zero": false}, "axis": {"values": [12, 24, 36, 48, 60, 72, 84, 96, 108], "offset": -25.83, "labelOverlap": false, "tickCount": 30}},
     "y": {"field": "f", "type": "quantitative", "title": null, "scale": {"domain": [-20, 100], "nice": false, "zero": false}, "axis": {"values": [-20, 0, 20, 40, 60, 80, 100], "labelOverlap": false, "tickCount": 30}},
     "color": {"field": "c", "type": "nominal", "scale": {"domain": ["0.0 mM", "0.5", "1.0", "2.5", "5.0", "10.0"], "range": ["#5656F2", "#1F98AA", "#1ABC7C", "#B15AD8", "#FFA240", "#FF4242"]}, "legend": null}}},
    {"mark": {"type": "point", "filled": true, "size": 40, "opacity": 1}, "encoding": {
     "x": {"field": "t", "type": "quantitative", "title": null},
     "y": {"field": "v", "type": "quantitative", "title": null},
     "color": {"field": "c", "type": "nominal", "scale": {"domain": ["0.0 mM", "0.5", "1.0", "2.5", "5.0", "10.0"], "range": ["#5656F2", "#1F98AA", "#1ABC7C", "#B15AD8", "#FFA240", "#FF4242"]}, "legend": null}}}
   ]},
   {"data": {"values": [{"label": "RKO†"}]}, "mark": {"type": "text", "font": "DejaVu Sans", "fontSize": 10, "color": "#111111"}, "encoding": {"x": {"datum": 52, "type": "quantitative"}, "y": {"datum": 55, "type": "quantitative"}, "text": {"field": "label"}}}
  ]},
  {"width": 297, "height": 155, "layer": [
   {"data": {"name": "B"}, "transform": [{"filter": {"field": "p", "equal": "SW480"}}], "layer": [
    {"mark": {"type": "line", "interpolate": "monotone", "strokeWidth": 1.8}, "encoding": {
     "x": {"field": "t", "type": "quantitative", "title": null, "scale": {"domain": [0, 108], "nice": false, "zero": false}, "axis": {"values": [12, 24, 36, 48, 60, 72, 84, 96, 108], "offset": -25.83, "labelOverlap": false, "tickCount": 30}},
     "y": {"field": "f", "type": "quantitative", "title": null, "scale": {"domain": [-20, 100], "nice": false, "zero": false}, "axis": {"values": [-20, 0, 20, 40, 60, 80, 100], "labelOverlap": false, "tickCount": 30}},
     "color": {"field": "c", "type": "nominal", "scale": {"domain": ["0.0 mM", "0.5", "1.0", "2.5", "5.0", "10.0"], "range": ["#5656F2", "#1F98AA", "#1ABC7C", "#B15AD8", "#FFA240", "#FF4242"]}, "legend": null}}},
    {"mark": {"type": "point", "filled": true, "size": 40, "opacity": 1}, "encoding": {
     "x": {"field": "t", "type": "quantitative", "title": null},
     "y": {"field": "v", "type": "quantitative", "title": null},
     "color": {"field": "c", "type": "nominal", "scale": {"domain": ["0.0 mM", "0.5", "1.0", "2.5", "5.0", "10.0"], "range": ["#5656F2", "#1F98AA", "#1ABC7C", "#B15AD8", "#FFA240", "#FF4242"]}, "legend": null}}}
   ]},
   {"data": {"values": [{"label": "SW480"}]}, "mark": {"type": "text", "font": "DejaVu Sans", "fontSize": 10, "color": "#111111"}, "encoding": {"x": {"datum": 53.5, "type": "quantitative"}, "y": {"datum": 54, "type": "quantitative"}, "text": {"field": "label"}}}
  ]},
  {"width": 297, "height": 155, "layer": [
   {"data": {"name": "B"}, "transform": [{"filter": {"field": "p", "equal": "HT29"}}], "layer": [
    {"mark": {"type": "line", "interpolate": "monotone", "strokeWidth": 1.8}, "encoding": {
     "x": {"field": "t", "type": "quantitative", "title": null, "scale": {"domain": [0, 108], "nice": false, "zero": false}, "axis": {"values": [12, 24, 36, 48, 60, 72, 84, 96, 108], "offset": -25.83, "labelOverlap": false, "tickCount": 30}},
     "y": {"field": "f", "type": "quantitative", "title": null, "scale": {"domain": [-20, 100], "nice": false, "zero": false}, "axis": {"values": [-20, 0, 20, 40, 60, 80, 100], "labelOverlap": false, "tickCount": 30}},
     "color": {"field": "c", "type": "nominal", "scale": {"domain": ["0.0 mM", "0.5", "1.0", "2.5", "5.0", "10.0"], "range": ["#5656F2", "#1F98AA", "#1ABC7C", "#B15AD8", "#FFA240", "#FF4242"]}, "legend": null}}},
    {"mark": {"type": "point", "filled": true, "size": 40, "opacity": 1}, "encoding": {
     "x": {"field": "t", "type": "quantitative", "title": null},
     "y": {"field": "v", "type": "quantitative", "title": null},
     "color": {"field": "c", "type": "nominal", "scale": {"domain": ["0.0 mM", "0.5", "1.0", "2.5", "5.0", "10.0"], "range": ["#5656F2", "#1F98AA", "#1ABC7C", "#B15AD8", "#FFA240", "#FF4242"]}, "legend": null}}}
   ]},
   {"data": {"values": [{"label": "HT29†"}]}, "mark": {"type": "text", "font": "DejaVu Sans", "fontSize": 10, "color": "#111111"}, "encoding": {"x": {"datum": 52.4, "type": "quantitative"}, "y": {"datum": 55, "type": "quantitative"}, "text": {"field": "label"}}}
  ]},
  {"width": 297, "height": 155, "layer": [
   {"data": {"name": "B"}, "transform": [{"filter": {"field": "p", "equal": "CACO2"}}], "layer": [
    {"mark": {"type": "line", "interpolate": "monotone", "strokeWidth": 1.8}, "encoding": {
     "x": {"field": "t", "type": "quantitative", "title": null, "scale": {"domain": [0, 108], "nice": false, "zero": false}, "axis": {"values": [12, 24, 36, 48, 60, 72, 84, 96, 108], "offset": -25.83, "labelOverlap": false, "tickCount": 30}},
     "y": {"field": "f", "type": "quantitative", "title": null, "scale": {"domain": [-20, 100], "nice": false, "zero": false}, "axis": {"values": [-20, 0, 20, 40, 60, 80, 100], "labelOverlap": false, "tickCount": 30}},
     "color": {"field": "c", "type": "nominal", "scale": {"domain": ["0.0 mM", "0.5", "1.0", "2.5", "5.0", "10.0"], "range": ["#5656F2", "#1F98AA", "#1ABC7C", "#B15AD8", "#FFA240", "#FF4242"]}, "legend": null}}},
    {"mark": {"type": "point", "filled": true, "size": 40, "opacity": 1}, "encoding": {
     "x": {"field": "t", "type": "quantitative", "title": null},
     "y": {"field": "v", "type": "quantitative", "title": null},
     "color": {"field": "c", "type": "nominal", "scale": {"domain": ["0.0 mM", "0.5", "1.0", "2.5", "5.0", "10.0"], "range": ["#5656F2", "#1F98AA", "#1ABC7C", "#B15AD8", "#FFA240", "#FF4242"]}, "legend": null}}}
   ]},
   {"data": {"values": [{"label": "CACO2"}]}, "mark": {"type": "text", "font": "DejaVu Sans", "fontSize": 10, "color": "#111111"}, "encoding": {"x": {"datum": 53.5, "type": "quantitative"}, "y": {"datum": 54.6, "type": "quantitative"}, "text": {"field": "label"}}}
  ]},
  {"width": 297, "height": 155, "layer": [
   {"data": {"name": "B"}, "transform": [{"filter": {"field": "p", "equal": "HCT15"}}], "layer": [
    {"mark": {"type": "line", "interpolate": "monotone", "strokeWidth": 1.8}, "encoding": {
     "x": {"field": "t", "type": "quantitative", "title": null, "scale": {"domain": [0, 108], "nice": false, "zero": false}, "axis": {"values": [12, 24, 36, 48, 60, 72, 84, 96, 108], "offset": -25.83, "labelOverlap": false, "tickCount": 30}},
     "y": {"field": "f", "type": "quantitative", "title": null, "scale": {"domain": [-20, 100], "nice": false, "zero": false}, "axis": {"values": [-20, 0, 20, 40, 60, 80, 100], "labelOverlap": false, "tickCount": 30}},
     "color": {"field": "c", "type": "nominal", "scale": {"domain": ["0.0 mM", "0.5", "1.0", "2.5", "5.0", "10.0"], "range": ["#5656F2", "#1F98AA", "#1ABC7C", "#B15AD8", "#FFA240", "#FF4242"]}, "legend": null}}},
    {"mark": {"type": "point", "filled": true, "size": 40, "opacity": 1}, "encoding": {
     "x": {"field": "t", "type": "quantitative", "title": null},
     "y": {"field": "v", "type": "quantitative", "title": null},
     "color": {"field": "c", "type": "nominal", "scale": {"domain": ["0.0 mM", "0.5", "1.0", "2.5", "5.0", "10.0"], "range": ["#5656F2", "#1F98AA", "#1ABC7C", "#B15AD8", "#FFA240", "#FF4242"]}, "legend": null}}}
   ]},
   {"data": {"values": [{"label": "HCT15†"}]}, "mark": {"type": "text", "font": "DejaVu Sans", "fontSize": 10, "color": "#111111"}, "encoding": {"x": {"datum": 52.3, "type": "quantitative"}, "y": {"datum": 54, "type": "quantitative"}, "text": {"field": "label"}}}
  ]},
  {"width": 297, "height": 155, "layer": [
   {"data": {"name": "B"}, "transform": [{"filter": {"field": "p", "equal": "SW48"}}], "layer": [
    {"mark": {"type": "line", "interpolate": "monotone", "strokeWidth": 1.8}, "encoding": {
     "x": {"field": "t", "type": "quantitative", "title": null, "scale": {"domain": [0, 108], "nice": false, "zero": false}, "axis": {"values": [12, 24, 36, 48, 60, 72, 84, 96, 108], "offset": -25.83, "labelOverlap": false, "tickCount": 30}},
     "y": {"field": "f", "type": "quantitative", "title": null, "scale": {"domain": [-20, 100], "nice": false, "zero": false}, "axis": {"values": [-20, 0, 20, 40, 60, 80, 100], "labelOverlap": false, "tickCount": 30}},
     "color": {"field": "c", "type": "nominal", "scale": {"domain": ["0.0 mM", "0.5", "1.0", "2.5", "5.0", "10.0"], "range": ["#5656F2", "#1F98AA", "#1ABC7C", "#B15AD8", "#FFA240", "#FF4242"]}, "legend": null}}},
    {"mark": {"type": "point", "filled": true, "size": 40, "opacity": 1}, "encoding": {
     "x": {"field": "t", "type": "quantitative", "title": null},
     "y": {"field": "v", "type": "quantitative", "title": null},
     "color": {"field": "c", "type": "nominal", "scale": {"domain": ["0.0 mM", "0.5", "1.0", "2.5", "5.0", "10.0"], "range": ["#5656F2", "#1F98AA", "#1ABC7C", "#B15AD8", "#FFA240", "#FF4242"]}, "legend": null}}}
   ]},
   {"data": {"values": [{"label": "SW48"}]}, "mark": {"type": "text", "font": "DejaVu Sans", "fontSize": 10, "color": "#111111"}, "encoding": {"x": {"datum": 53.5, "type": "quantitative"}, "y": {"datum": 54, "type": "quantitative"}, "text": {"field": "label"}}}
  ]}
 ]
}
],
"spacing": 28.7,
"bounds": "flush",
"config": {
 "view": {"stroke": null},
 "axis": {"grid": false, "domainColor": "#000000", "domainWidth": 2, "tickColor": "#000000", "tickWidth": 2, "tickSize": 5, "labelFont": "DejaVu Sans", "labelFontSize": 10, "labelColor": "#222222", "titleFont": "DejaVu Sans", "titleFontSize": 10, "titleFontWeight": "normal", "titleColor": "#222222", "labelFlush": false, "labelOverlap": false},
 "axisX": {"labelPadding": 8.5, "titlePadding": 15, "labelAngle": 0},
 "axisY": {"labelPadding": 3, "titlePadding": 10}
}
}
